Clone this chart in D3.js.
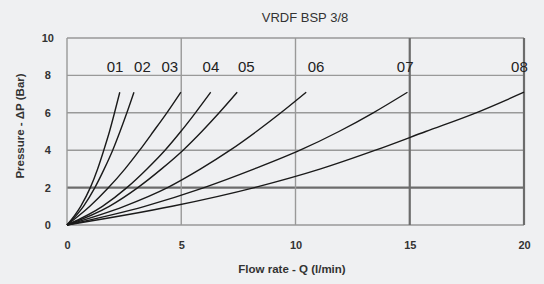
<!DOCTYPE html>
<html>
<head>
<meta charset="utf-8">
<script src="https://cdn.jsdelivr.net/npm/d3@7"></script>
<style>
  html, body { margin: 0; padding: 0; background: #eff0f2; }
  svg { display: block; }
  text { font-family: "Liberation Sans Narrow", "Liberation Sans", Arial, sans-serif; }
</style>
</head>
<body>
<svg id="chart" width="544" height="284"></svg>
<script>
// ---- data ----
const title = "VRDF BSP 3/8";
const xLabel = "Flow rate - Q (l/min)";
const yLabel = "Pressure - ΔP (Bar)";
const xTicks = [0, 5, 10, 15, 20];
const yTicks = [0, 2, 4, 6, 8, 10];
const seriesNames = ["01", "02", "03", "04", "05", "06", "07", "08"];
// pressure levels (Bar) at which flow rates were read
const pressures = [0, 1, 2, 3, 4, 5, 6, 7.1];
// flow rate (l/min) of each curve at those pressure levels
const q01 = [0, 0.60, 1.02, 1.34, 1.61, 1.86, 2.08, 2.31];
const q02 = [0, 0.72, 1.22, 1.63, 2.00, 2.32, 2.62, 2.93];
const q03 = [0, 1.00, 1.82, 2.54, 3.18, 3.78, 4.37, 4.98];
const q04 = [0, 1.55, 2.62, 3.50, 4.29, 4.98, 5.62, 6.29];
const q05 = [0, 1.85, 3.10, 4.14, 5.08, 5.90, 6.66, 7.45];
const q06 = [0, 2.50, 4.40, 5.85, 7.14, 8.29, 9.36, 10.47];
const q07 = [0, 3.40, 6.00, 8.20, 10.20, 11.90, 13.40, 14.90];
const q08 = [0, 4.60, 8.20, 11.10, 13.50, 15.70, 17.90, 20.00];
// x position of each curve's label (flow rate)
const labelQ = [2.1, 3.3, 4.5, 6.3, 7.85, 10.9, 14.8, 19.8];

const seriesQ = [q01, q02, q03, q04, q05, q06, q07, q08];

// ---- layout ----
const svg = d3.select("#chart");
const m = { left: 67, right: 20, top: 38, bottom: 59 };
const W = 544, H = 284;
const x = d3.scaleLinear().domain([0, 20]).range([m.left, W - m.right]);
const y = d3.scaleLinear().domain([0, 10]).range([H - m.bottom, m.top]);

svg.append("rect").attr("width", W).attr("height", H).attr("fill", "#eff0f2");

// grid
const grid = svg.append("g");
const strongX = new Set([15, 20]);
const strongY = new Set([2]);
yTicks.forEach(v => {
  grid.append("line")
    .attr("x1", x(0)).attr("x2", x(20))
    .attr("y1", y(v)).attr("y2", y(v))
    .attr("stroke", strongY.has(v) ? "#6c6c6c" : "#999")
    .attr("stroke-width", strongY.has(v) ? 2.2 : 1.4);
});
xTicks.forEach(v => {
  grid.append("line")
    .attr("x1", x(v)).attr("x2", x(v))
    .attr("y1", y(0)).attr("y2", y(10))
    .attr("stroke", strongX.has(v) ? "#6c6c6c" : "#999")
    .attr("stroke-width", strongX.has(v) ? 2.2 : 1.4);
});

// axes (labels only)
const xAxis = svg.append("g")
  .attr("transform", `translate(0,${y(0) + 13})`)
  .call(d3.axisBottom(x).tickValues(xTicks).tickSize(0).tickFormat(d3.format("d")));
xAxis.select(".domain").remove();
xAxis.selectAll("text").attr("font-size", 11).attr("font-weight", "bold").attr("fill", "#333");

const yAxis = svg.append("g")
  .attr("transform", `translate(${x(0) - 14},0)`)
  .call(d3.axisLeft(y).tickValues(yTicks).tickSize(0).tickFormat(d3.format("d")));
yAxis.select(".domain").remove();
yAxis.selectAll("text").attr("font-size", 11).attr("font-weight", "bold").attr("fill", "#333")
  .attr("text-anchor", "middle").attr("dx", "-0.2em");

// curves
const line = d3.line()
  .x(d => x(d[0]))
  .y(d => y(d[1]))
  .curve(d3.curveMonotoneX);

seriesQ.forEach((qs, i) => {
  const pts = qs.map((q, j) => [q, pressures[j]]);
  svg.append("path")
    .datum(pts)
    .attr("d", line)
    .attr("fill", "none")
    .attr("stroke", "#1a1a1a")
    .attr("stroke-width", 1.4);
  svg.append("text")
    .attr("x", x(labelQ[i]))
    .attr("y", y(8) - 3)
    .attr("text-anchor", "middle")
    .attr("font-size", 15)
    .attr("fill", "#222")
    .text(seriesNames[i]);
});

// titles
svg.append("text")
  .attr("x", 305).attr("y", 22)
  .attr("text-anchor", "middle")
  .attr("font-size", 13)
  .attr("fill", "#333")
  .text(title);

svg.append("text")
  .attr("x", 292).attr("y", 273)
  .attr("text-anchor", "middle")
  .attr("font-size", 11.5)
  .attr("font-weight", "bold")
  .attr("fill", "#333")
  .text(xLabel);

svg.append("text")
  .attr("transform", `translate(24,126) rotate(-90)`)
  .attr("text-anchor", "middle")
  .attr("font-size", 11.5)
  .attr("font-weight", "bold")
  .attr("fill", "#333")
  .text(yLabel);
</script>
</body>
</html>
